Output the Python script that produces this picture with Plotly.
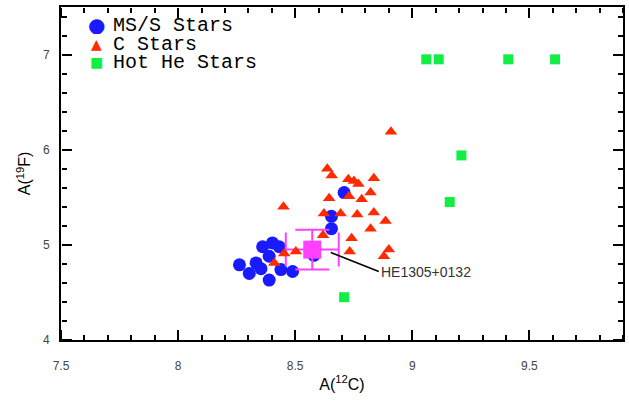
import plotly.graph_objects as go

# ---- data ----
ms_x = [8.262, 8.304, 8.333, 8.361, 8.403, 8.432, 8.389, 8.354, 8.389, 8.439, 8.489, 8.58, 8.655, 8.655, 8.709]
ms_y = [4.79, 4.70, 4.81, 4.98, 5.02, 4.98, 4.88, 4.75, 4.63, 4.74, 4.72, 4.89, 5.30, 5.17, 5.55]

c_x = [8.909, 8.637, 8.656, 8.727, 8.751, 8.77, 8.836, 8.822, 8.645, 8.73, 8.784, 8.45, 8.623,
       8.694, 8.765, 8.836, 8.886, 8.822, 8.741, 8.619, 8.733, 8.90, 8.879, 8.503, 8.453, 8.411]
c_y = [6.19, 5.80, 5.73, 5.69, 5.67, 5.64, 5.70, 5.55, 5.49, 5.51, 5.48, 5.40, 5.33,
       5.33, 5.32, 5.34, 5.25, 5.17, 5.07, 5.10, 4.93, 4.95, 4.88, 4.93, 4.91, 4.81]

he_x = [9.06, 9.113, 9.41, 9.61, 9.21, 9.16, 8.709]
he_y = [6.95, 6.95, 6.95, 6.95, 5.94, 5.45, 4.45]

star_name = "HE1305+0132"
star_x = [8.573]
star_y = [4.95]
star_ex = [0.113]
star_ey = [0.21]

label_tail = (8.857, 4.72)
label_head = (8.652, 4.92)

x_range = [7.5, 9.9]
y_range = [4, 7.5]
x_ticks = [7.5, 8, 8.5, 9, 9.5]
y_ticks = [4, 5, 6, 7]
x_minor_step = 0.1
y_minor_step = 0.2

legend_names = ["MS/S Stars", "C Stars", "Hot He Stars"]

BLUE = "#1a1aff"
RED = "#ff2a00"
GREEN = "#11ee44"
MAGENTA = "#ff40ff"

fig = go.Figure()
fig.add_trace(go.Scatter(x=ms_x, y=ms_y, mode="markers", name=legend_names[0],
                         marker=dict(symbol="circle", size=13, color=BLUE)))
fig.add_trace(go.Scatter(x=star_x, y=star_y, mode="markers", name=star_name,
                         marker=dict(symbol="square", size=18, color=MAGENTA),
                         error_x=dict(type="data", array=star_ex, color=MAGENTA, thickness=2, width=17),
                         error_y=dict(type="data", array=star_ey, color=MAGENTA, thickness=2, width=17)))
fig.add_trace(go.Scatter(x=c_x, y=c_y, mode="markers", name=legend_names[1],
                         marker=dict(symbol="triangle-up", size=11, color=RED)))
fig.add_trace(go.Scatter(x=he_x, y=he_y, mode="markers", name=legend_names[2],
                         marker=dict(symbol="square", size=10, color=GREEN)))

# empty helper traces so the tick-only overlay axes get drawn
for xa, ya in [("x2", "y"), ("x3", "y"), ("x", "y2"), ("x", "y3")]:
    fig.add_trace(go.Scatter(x=[], y=[], xaxis=xa, yaxis=ya, mode="markers",
                             hoverinfo="skip", showlegend=False))

# leader line + label
fig.add_annotation(x=label_head[0], y=label_head[1], ax=label_tail[0], ay=label_tail[1],
                   axref="x", ayref="y", xref="x", yref="y",
                   text=star_name, showarrow=True, arrowhead=0, arrowwidth=1.6, arrowcolor="black",
                   xanchor="left", yanchor="middle",
                   font=dict(family="Liberation Sans", size=14, color="#333333"))

# manual legend (symbol + label)
legend_syms = [("●", BLUE, 20), ("▲", RED, 14), ("■", GREEN, 14)]
for i, ((sym, col, sz), txt) in enumerate(zip(legend_syms, legend_names)):
    yy = 0.945 - i * 0.0556
    fig.add_annotation(xref="paper", yref="paper", x=0.064, y=yy, text=sym, showarrow=False,
                       xanchor="center", yanchor="middle", height=18, borderpad=0,
                       font=dict(family="DejaVu Sans", size=sz, color=col))
    fig.add_annotation(xref="paper", yref="paper", x=0.091, y=yy, text=txt, showarrow=False,
                       xanchor="left", yanchor="middle", height=18, borderpad=0,
                       font=dict(family="Liberation Mono", size=20, color="black"))

tickfont = dict(family="Liberation Sans", size=12, color="#444444")
titlefont = dict(family="Liberation Sans", size=16, color="black")

# main axes: frame lines + labels
fig.update_layout(
    xaxis=dict(range=x_range, tickmode="linear", tick0=x_ticks[0], dtick=x_ticks[1] - x_ticks[0],
               showline=True, linecolor="black", linewidth=2, mirror=True, ticks="",
               showgrid=False, zeroline=False, automargin=False, tickfont=tickfont,
               ticklabelstandoff=14,
               title=dict(text="A(<sup>12</sup>C)", font=titlefont, standoff=6)),
    yaxis=dict(range=y_range, tickmode="linear", tick0=y_ticks[0], dtick=y_ticks[1] - y_ticks[0],
               showline=True, linecolor="black", linewidth=2, mirror=True, ticks="",
               showgrid=False, zeroline=False, automargin=False, tickfont=tickfont,
               ticklabelstandoff=7,
               title=dict(text="A(<sup>19</sup>F)", font=titlefont, standoff=8)),
)

# tick-only overlay axes: ticks point into the plot from every side
def tick_axis(rng, t0, dt, mstep, overlay, side, pos):
    return dict(range=rng, tickmode="linear", tick0=t0, dtick=dt, overlaying=overlay,
                anchor="free", position=pos, side=side,
                ticks="outside", ticklen=10, tickwidth=2, tickcolor="black",
                minor=dict(dtick=mstep, ticks="outside", ticklen=5, tickwidth=1.5, tickcolor="black"),
                showticklabels=False, showline=False, showgrid=False, zeroline=False,
                automargin=False, fixedrange=True)

xdt = x_ticks[1] - x_ticks[0]
ydt = y_ticks[1] - y_ticks[0]
fig.update_layout(
    xaxis2=tick_axis(x_range, x_ticks[0], xdt, x_minor_step, "x", "top", 0),
    xaxis3=tick_axis(x_range, x_ticks[0], xdt, x_minor_step, "x", "bottom", 1),
    yaxis2=tick_axis(y_range, y_ticks[0], ydt, y_minor_step, "y", "right", 0),
    yaxis3=tick_axis(y_range, y_ticks[0], ydt, y_minor_step, "y", "left", 1),
)

fig.update_layout(width=629, height=406, showlegend=False,
                  margin=dict(l=61, r=6, t=7, b=66),
                  plot_bgcolor="white", paper_bgcolor="white")

fig.write_html("out.html", config={"displayModeBar": False},
               post_script="document.body.style.margin='0';")
